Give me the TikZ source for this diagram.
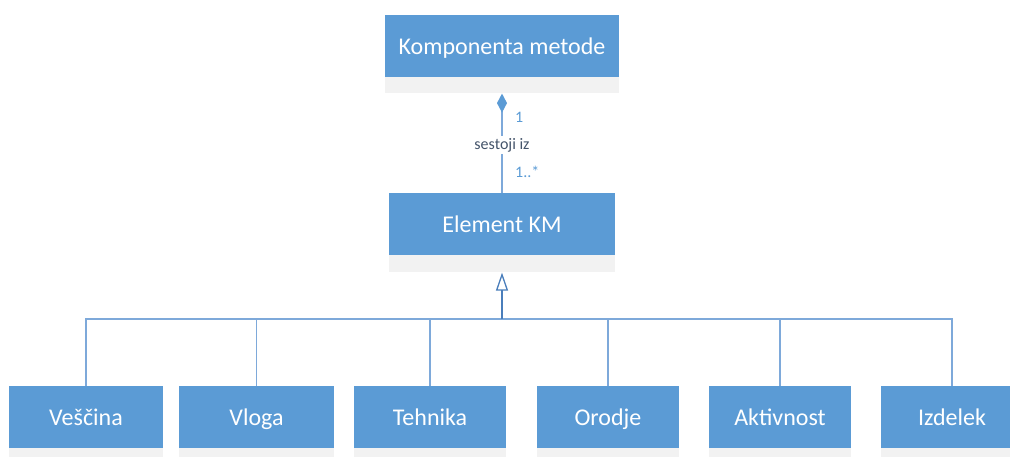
\documentclass[tikz,border=0pt]{standalone}
\usepackage{fontspec}
\setmainfont{Carlito}
\usetikzlibrary{arrows.meta}
\definecolor{boxblue}{HTML}{5B9BD5}
\definecolor{boxgray}{HTML}{F2F2F2}
\definecolor{linkblue}{HTML}{7EA9DA}
\definecolor{stemblue}{HTML}{4A7EBB}
\definecolor{labelgray}{HTML}{44546A}
\tikzset{
  cls/.style={fill=boxblue, draw=none, inner sep=0pt, minimum height=62pt,
    text=white, font=\fontsize{24}{28}\selectfont, text height=18pt, text depth=1pt},
  compart/.style={fill=boxgray, draw=none, inner sep=0pt, anchor=north},
  link/.style={draw=linkblue, line width=1.1pt},
  gen/.style={draw=stemblue, line width=1.8pt,
    -{Triangle[open, length=18pt, width=12pt, line width=1.3pt]}},
  comp/.style={draw=linkblue, line width=1.6pt,
    -{Diamond[length=19pt, width=10pt, fill=boxblue, color=boxblue]}},
  mult/.style={text=boxblue, font=\fontsize{16}{18}\selectfont, inner sep=0pt, anchor=west},
  role/.style={text=labelgray, fill=white, font=\fontsize{16}{18}\selectfont, inner sep=2pt}
}
\begin{document}
\begin{tikzpicture}[x=1pt, y=-1pt]
\useasboundingbox (0,0) rectangle (1010,457);
\clip (0,0) rectangle (1010,457);
\fill[white] (0,0) rectangle (1010,457);

% parent class and its empty compartment
\node[cls, minimum width=234pt] (km) at (502,46) {Komponenta metode};
\node[compart, minimum width=234pt, minimum height=16pt] (kmg) at (km.south) {};

% element class
\node[cls, minimum width=226pt] (ekm) at (502,224) {Element KM};
\node[compart, minimum width=226pt, minimum height=17pt] (ekmg) at (ekm.south) {};

% subclasses
\foreach \n/\x/\w/\t in {v/86/154/Veščina, vl/256.5/155/Vloga, t/430/152/Tehnika,
                         o/608/142/Orodje, a/780/142/Aktivnost, i/952/142/Izdelek} {
  \node[cls, minimum width=\w pt] (\n) at (\x,417) {\t};
  \node[compart, minimum width=\w pt, minimum height=16pt] (\n g) at (\n.south) {};
}

% composition: Komponenta metode consists of Element KM
\draw[comp] (ekm.north) -- (kmg.south);
\node[role] (rl) at (502,145) {sestoji iz};
\node[mult] (m1) at (515,117) {1};
\node[mult] (m2) at (515,172) {1..*};

% generalization tree
\coordinate (bus) at (502,319);
\foreach \n in {v, vl, t, o, a, i}
  \draw[link] (\n.north) |- (bus);
\draw[gen] (bus) -- (ekmg.south);
\end{tikzpicture}
\end{document}
